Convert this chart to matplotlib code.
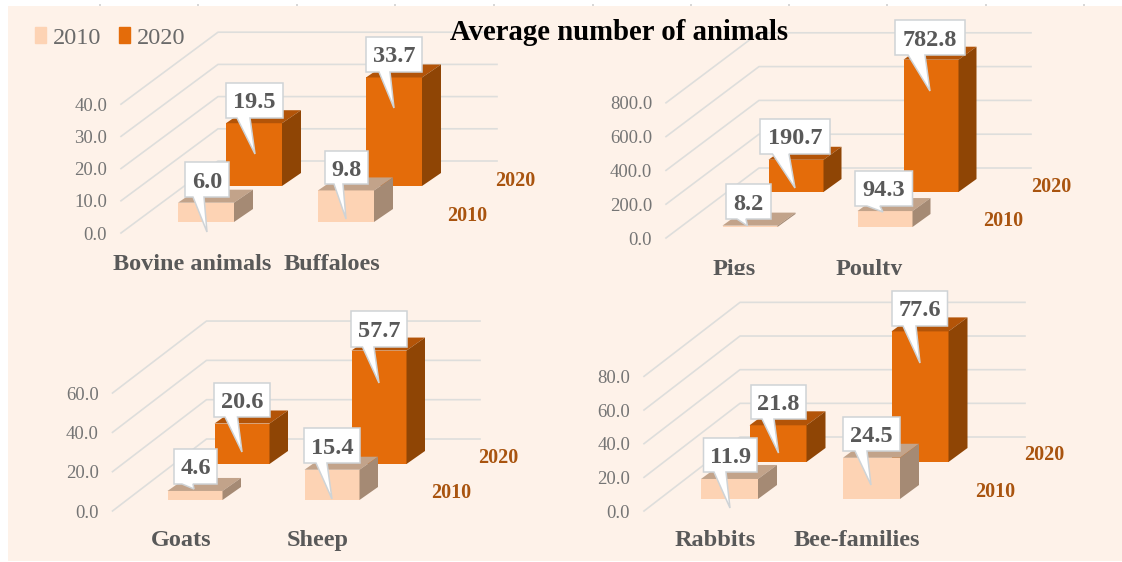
import matplotlib
matplotlib.use("Agg")
import matplotlib.pyplot as plt
from matplotlib.patches import Patch, Polygon, Rectangle
from matplotlib.transforms import Affine2D, Bbox

W, H = 1122, 562
SERIF = ["Liberation Serif", "DejaVu Serif"]

# ---------- data ----------
title = "Average number of animals"
series_names = ["2010", "2020"]
cats_a = ["Bovine animals", "Buffaloes"]
vals_a_2010 = [6.0, 9.8]
vals_a_2020 = [19.5, 33.7]
ticks_a = [0, 10, 20, 30, 40]
cats_b = ["Pigs", "Poulty"]
vals_b_2010 = [8.2, 94.3]
vals_b_2020 = [190.7, 782.8]
ticks_b = [0, 200, 400, 600, 800]
cats_c = ["Goats", "Sheep"]
vals_c_2010 = [4.6, 15.4]
vals_c_2020 = [20.6, 57.7]
ticks_c = [0, 20, 40, 60]
cats_d = ["Rabbits", "Bee-families"]
vals_d_2010 = [11.9, 24.5]
vals_d_2020 = [21.8, 77.6]
ticks_d = [0, 20, 40, 60, 80]

# ---------- colours ----------
BG = "#FEF2E9"
C10 = ("#FDD3B4", "#C2A38A", "#A58A74")
C20 = ("#E46C0A", "#B35408", "#8F4505")
GRID = "#DEDEDC"
TICK = "#757575"
LEGEND = "#6A6A6A"
LABEL = "#595959"
ROW = "#A9540F"

# ---------- layout, in image pixels ----------
# L: front start of gridlines, R: right end, y0: front zero line, ppu: pixels per unit
# cat0, sp: first category label centre and spacing
# depth: gridline depth; off10/off20: bar centre offset and base height; bw: bar width
# sd: bar side depth; catlab: category label centre y
# row_xy: centres of the depth labels; clip: lower limit of category text
panels = [
    dict(cats=cats_a, v10=vals_a_2010, v20=vals_a_2020, ticks=ticks_a,
         L=121, R=497, y0=233, ppu=3.22, cat0=192, sp=140, depth=(97, 72),
         off10=(14, 11), off20=(62, 47), bw=56, sd=(19, 13), catlab=265,
         row_xy=[(467, 216), (515, 181)], clip=None,
         calls=[[(185, 229, 162, 197, 193, 204, 207, 232), (325, 368, 151, 184, 334, 343, 346, 219)],
                [(226, 283, 83, 118, 237, 250, 255, 154), (366, 422, 37, 72, 379, 390, 394, 108)]]),
    dict(cats=cats_b, v10=vals_b_2010, v20=vals_b_2020, ticks=ticks_b,
         L=666, R=1031, y0=238, ppu=0.169, cat0=734, sp=135, depth=(93, 70),
         off10=(16, 11), off20=(62, 46), bw=55, sd=(18, 13), catlab=270,
         row_xy=[(1003, 221), (1051, 187)], clip=275,
         calls=[[(726, 771, 184, 219, 737, 746, 747.5, 226), (855, 912.5, 171, 206, 867, 880, 883, 212)],
                [(760, 830, 119, 154, 772.5, 789, 795, 188), (895, 965, 20, 55, 908, 925, 930, 91)]]),
    dict(cats=cats_c, v10=vals_c_2010, v20=vals_c_2020, ticks=ticks_c,
         L=112.5, R=480, y0=511, ppu=1.966, cat0=181, sp=137, depth=(94, 72),
         off10=(14, 11), off20=(61, 47), bw=55, sd=(18.5, 13), catlab=541,
         row_xy=[(451, 493), (498, 458)], clip=None,
         calls=[[(174, 217, 449, 484, 182, 193, 194, 489), (304, 360, 428, 463, 316, 327, 332, 499)],
                [(214, 270, 383, 417, 225, 237.5, 242, 452), (351, 407, 311, 347, 362.5, 374, 379, 383)]]),
    dict(cats=cats_d, v10=vals_d_2010, v20=vals_d_2020, ticks=ticks_d,
         L=644, R=1025, y0=511, ppu=1.683, cat0=715, sp=142, depth=(96, 74),
         off10=(14.5, 12), off20=(63, 49), bw=57, sd=(19, 14), catlab=541,
         row_xy=[(995, 492), (1044, 455)], clip=None,
         calls=[[(703.5, 757, 438, 472, 714, 726, 730, 508), (843, 900, 417, 451, 855, 867, 871, 485)],
                [(751, 806, 385, 419, 762, 774, 778.5, 453), (892, 947.5, 291, 326, 903, 916, 920, 363)]]),
]

fig = plt.figure(figsize=(W / 100, H / 100), dpi=100, facecolor="white")
px = Affine2D().scale(1, -1).translate(0, H) + Affine2D().scale(1 / W, 1 / H) + fig.transFigure

fig.add_artist(Rectangle((8, 6), W - 8, H - 7, transform=px, fc=BG, ec="none", zorder=-5))


def draw_row(ax, vals, off, p, colors, z):
    sp, ppu = p["sp"], p["ppu"]
    base = off[1] / ppu
    sx, sy = p["sd"][0] / sp, p["sd"][1] / ppu
    hw = p["bw"] / 2 / sp
    for i, v in enumerate(vals):
        c = i + off[0] / sp
        ax.bar(c, v, width=2 * hw, bottom=base, color=colors[0], linewidth=0, zorder=z)
        top = base + v
        ax.add_patch(Polygon([(c - hw, top), (c + hw, top), (c + hw + sx, top + sy), (c - hw + sx, top + sy)],
                             fc=colors[1], ec="none", zorder=z))
        ax.add_patch(Polygon([(c + hw, base), (c + hw + sx, base + sy), (c + hw + sx, top + sy), (c + hw, top)],
                             fc=colors[2], ec="none", zorder=z))


def callout(text, box, z):
    x0, x1, y0, y1, b0, b1, tx, ty = box
    fig.add_artist(Polygon([(x0, y0), (x1, y0), (x1, y1), (b1, y1), (tx, ty), (b0, y1), (x0, y1)],
                           closed=True, transform=px, fc="white", ec="#CFD3D6", lw=1.1, zorder=z))
    fig.text((x0 + x1) / 2, (y0 + y1) / 2, text, transform=px, ha="center", va="center_baseline",
             family=SERIF, weight="bold", fontsize=17.5, color=LABEL, zorder=z + 0.1)


for p in panels:
    sp, ppu = p["sp"], p["ppu"]
    ymax = max(p["ticks"])
    top_px = p["y0"] - ymax * ppu
    ax = fig.add_axes([p["L"] / W, 1 - p["y0"] / H, (p["R"] - p["L"]) / W, (p["y0"] - top_px) / H])
    ax.patch.set_visible(False)
    for s in ax.spines.values():
        s.set_visible(False)
    ax.set_xlim((p["L"] - p["cat0"]) / sp, (p["R"] - p["cat0"]) / sp)
    ax.set_ylim(0, ymax)

    dx, dy = p["depth"][0] / sp, p["depth"][1] / ppu
    xl, xr = ax.get_xlim()
    for t in p["ticks"]:
        ax.plot([xl, xl + dx, xr], [t, t + dy, t + dy], color=GRID, lw=1.2, zorder=1, clip_on=False)

    draw_row(ax, p["v20"], p["off20"], p, C20, 2)
    draw_row(ax, p["v10"], p["off10"], p, C10, 3)
    for a in ax.patches:
        a.set_clip_on(False)

    ax.set_yticks(p["ticks"], [f"{t:.1f}" for t in p["ticks"]], family=SERIF, fontsize=13.5, color=TICK)
    ax.tick_params(axis="y", length=0, pad=10)
    ax.set_xticks(range(len(p["cats"])), p["cats"], family=SERIF, weight="bold", fontsize=17.5, color=LABEL)
    ax.tick_params(axis="x", length=0, pad=(p["catlab"] - p["y0"] - 11) * 0.72)
    if p["clip"]:
        for l in ax.get_xticklabels():
            l.set_clip_box(Bbox([[0, H - p["clip"]], [W, H]]))
            l.set_clip_on(True)

    for name, (x, y) in zip(series_names, p["row_xy"]):
        fig.text(x, y, name, transform=px, ha="center", va="center", family=SERIF, weight="bold",
                 fontsize=14.5, color=ROW)

    for vals, boxes, z in ((p["v20"], p["calls"][1], 5), (p["v10"], p["calls"][0], 6)):
        for v, b in zip(vals, boxes):
            callout(f"{v:.1f}", b, z)

fig.text(619, 33, title, transform=px, ha="center", va="center", family=SERIF, weight="bold",
         fontsize=20.7, color="black", zorder=8)

fig.legend(handles=[Patch(color=C10[0], label=series_names[0]), Patch(color=C20[0], label=series_names[1])],
           loc="center left", bbox_to_anchor=(35 / W, 1 - 38 / H), ncol=2, frameon=False,
           prop={"family": SERIF, "size": 17.5}, labelcolor=LEGEND, handlelength=0.45, handleheight=0.6,
           handletextpad=0.3, columnspacing=0.72, borderpad=0, borderaxespad=0)

# ruler marks above the picture
for x in [100, 198, 297, 395, 494, 593, 691, 789, 887, 986, 1084]:
    fig.add_artist(Rectangle((x - 0.5, 4), 1.5, 2, transform=px, fc="#D8D8D8", ec="none"))

fig.savefig("out.png", dpi=100)
